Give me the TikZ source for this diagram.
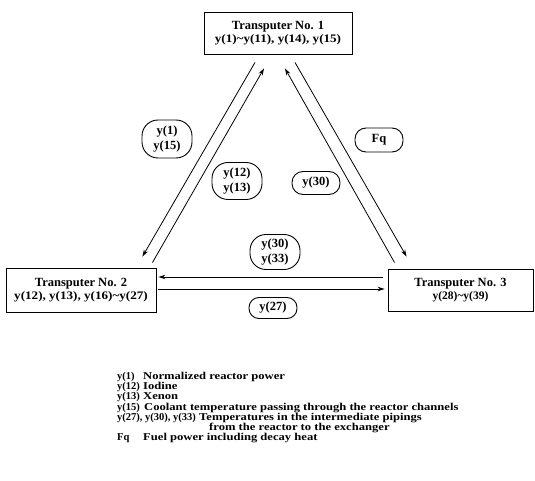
\documentclass[tikz,border=0pt]{standalone}
\usepackage{fontspec}
\setmainfont{Liberation Serif}
\newfontfamily\lgfont{Liberation Serif}[FakeStretch=1.2]
\newfontfamily\wdfont{Liberation Serif}[FakeStretch=1.14]
\usetikzlibrary{arrows.meta,calc}
\begin{document}
\begin{tikzpicture}[x=1pt,y=-1pt,
  tbox/.style={draw, line width=0.9pt, align=center, inner sep=0pt, font=\bfseries},
  lbl/.style={draw, line width=0.9pt, rounded corners=11pt, align=center, inner sep=0pt, font=\fontsize{12.5}{15.5}\selectfont\bfseries},
  flow/.style={line width=0.8pt, -{Stealth[length=7pt,width=4.5pt]}},
  lg/.style={anchor=base west, inner sep=0pt, font=\lgfont\bfseries\fontsize{10.5}{12}\selectfont},
  ky/.style={anchor=base west, inner sep=0pt, font=\fontsize{10.5}{12}\selectfont\bfseries}]
\useasboundingbox (0,0) rectangle (535,481);

% transputer boxes
\node[tbox, minimum width=148pt, minimum height=42pt] (t1) at (278,33)
  {\fontsize{12.5}{15}\selectfont Transputer No. 1\\[1.5pt]\wdfont\bfseries\fontsize{11.5}{13}\selectfont y(1)\textasciitilde y(11), y(14), y(15)};
\node[tbox, minimum width=150pt, minimum height=44pt] (t2) at (81,290)
  {\fontsize{12.5}{15}\selectfont Transputer No. 2\\[1pt]\wdfont\bfseries\fontsize{11.5}{13}\selectfont y(12), y(13), y(16)\textasciitilde y(27)};
\node[tbox, minimum width=145pt, minimum height=42pt] (t3) at (460.5,290)
  {\fontsize{12.5}{15}\selectfont Transputer No. 3\\[1.5pt]\fontsize{11.5}{13}\selectfont y(28)\textasciitilde y(39)};

% connectors
\draw[flow] ($(t1.south)+(-23,8)$) -- ($(t2.north east)+(-14,-11)$);
\draw[flow] ($(t2.north east)+(-4,-5)$) -- ($(t1.south)+(-14,14)$);
\draw[flow] ($(t3.north west)+(7,-6)$) -- ($(t1.south)+(7,14)$);
\draw[flow] ($(t1.south)+(17,8)$) -- ($(t3.north west)+(19,-12)$);
\draw[flow] ($(t3.west)+(-5,-13)$) -- ($(t2.east)+(2,-13)$);
\draw[flow] ($(t2.east)+(2,-1)$) -- ($(t3.west)+(-3,-1)$);

% labels
\node[lbl, minimum width=50pt, minimum height=38pt, rounded corners=16pt] (e1) at (167,139) {y(1)\\y(15)};
\node[lbl, minimum width=50pt, minimum height=37pt, rounded corners=16pt] (e2) at (237,181) {y(12)\\y(13)};
\node[lbl, minimum width=48pt, minimum height=23pt] (e3) at (316,183) {y(30)};
\node[lbl, minimum width=48pt, minimum height=24pt] (e4) at (379,140) {Fq};
\node[lbl, minimum width=50pt, minimum height=35pt, rounded corners=16pt] (e5) at (275,252) {y(30)\\y(33)};
\node[lbl, minimum width=48pt, minimum height=21pt, rounded corners=10pt] (e6) at (273,308) {y(27)};

% legend
\node[ky] (k1) at (117,379.5) {y(1)};
\node[lg] (d1) at (143,379.5) {Normalized reactor power};
\node[ky] (k2) at (117,389.7) {y(12)};
\node[lg] (d2) at (143,389.7) {Iodine};
\node[ky] (k3) at (117,399.8) {y(13)};
\node[lg] (d3) at (143,399.8) {Xenon};
\node[ky] (k4) at (117,410) {y(15)};
\node[lg] (d4) at (144,410) {Coolant temperature passing through the reactor channels};
\node[ky] (k5) at (117,420.2) {y(27), y(30), y(33)};
\node[lg] (d5) at (199,420.2) {Temperatures in the intermediate pipings};
\node[lg] (d6) at (209,430.3) {from the reactor to the exchanger};
\node[ky] (k7) at (117,440.5) {Fq};
\node[lg] (d7) at (143,440.5) {Fuel power including decay heat};
\end{tikzpicture}
\end{document}
